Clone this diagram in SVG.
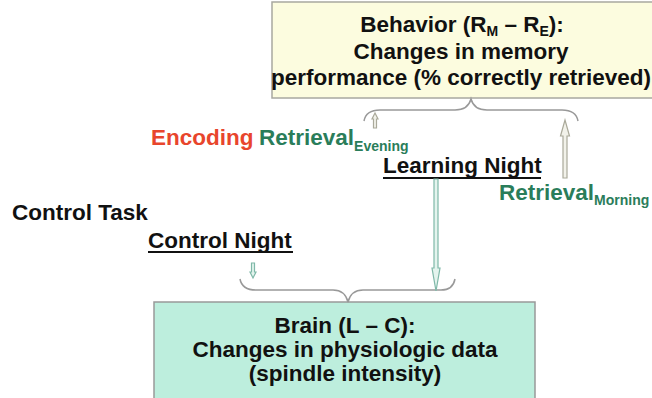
<svg xmlns="http://www.w3.org/2000/svg" width="652" height="398" viewBox="0 0 652 398">
<style>
.t{font-family:"Liberation Sans",Arial,sans-serif;font-weight:bold;font-size:22.5px;fill:#111}
.c{text-anchor:middle}
.red{fill:#e8452c}
.grn{fill:#2a7d5a}
.sub{font-size:14px}
.ul{stroke:#111;stroke-width:2}
.brace{fill:none;stroke:#999;stroke-width:1.5}
.arrG{fill:#f2f2ea;stroke:#aaa99a;stroke-width:1.2}
.arrT{fill:#e4f4ee;stroke:#7fb8a8;stroke-width:1.2}
</style>
<rect width="652" height="398" fill="#ffffff"/>
<g id="behavior">
<rect x="272" y="2" width="385" height="96" fill="#fcfcdf" stroke="#a8a8a0" stroke-width="1.5"/>
<text class="t c" x="462" y="32">Behavior (R<tspan class="sub" dy="4">M</tspan><tspan dy="-4"> – R</tspan><tspan class="sub" dy="4">E</tspan><tspan dy="-4">):</tspan></text>
<text class="t c" x="461" y="59">Changes in memory</text>
<text class="t c" x="461" y="85">performance (% correctly retrieved)</text>
</g>
<g id="brain">
<rect x="154" y="302" width="381" height="100" fill="#bdeedd" stroke="#999" stroke-width="1.5"/>
<text class="t c" x="345" y="333">Brain (L – C):</text>
<text class="t c" x="345" y="357">Changes in physiologic data</text>
<text class="t c" x="345" y="381">(spindle intensity)</text>
</g>
<g id="encoding">
<text class="t red" x="151" y="145">Encoding</text>
</g>
<g id="retrieval-evening">
<text class="t grn" x="259" y="145">Retrieval<tspan class="sub" dy="6">Evening</tspan></text>
</g>
<g id="learning-night">
<text class="t" x="383" y="173">Learning Night</text>
<line class="ul" x1="383" y1="178" x2="541" y2="178"/>
</g>
<g id="retrieval-morning">
<text class="t grn" x="499" y="200">Retrieval<tspan class="sub" dy="5">Morning</tspan></text>
</g>
<g id="control-task">
<text class="t" x="12" y="220">Control Task</text>
</g>
<g id="control-night">
<text class="t" x="148" y="248">Control Night</text>
<line class="ul" x1="148" y1="252" x2="293" y2="252"/>
</g>
<g id="connectors">
<path class="brace" d="M364,121 Q366,110 380,110 L455,110 Q468,110 471,99 Q474,110 487,110 L562,110 Q576,110 578,121"/>
<path class="brace" d="M240,279 Q242,290 256,290 L333,290 Q345,290 348,302 Q351,290 363,290 L441,290 Q453,290 455,279"/>
<path class="arrG" d="M373.5,128 L373.5,119 L372,119 L375,113 L378,119 L376.5,119 L376.5,128 Z"/>
<path class="arrG" d="M563,178 L563,136 L560.5,136 L565,120 L569.5,136 L567,136 L567,178 Z"/>
<path class="arrT" d="M434,179 L434,268 L432,268 L436,291 L440,268 L438,268 L438,179 Z"/>
<path class="arrT" d="M251.5,263 L251.5,272 L250,272 L253,278 L256,272 L254.5,272 L254.5,263 Z"/>
</g>
</svg>
